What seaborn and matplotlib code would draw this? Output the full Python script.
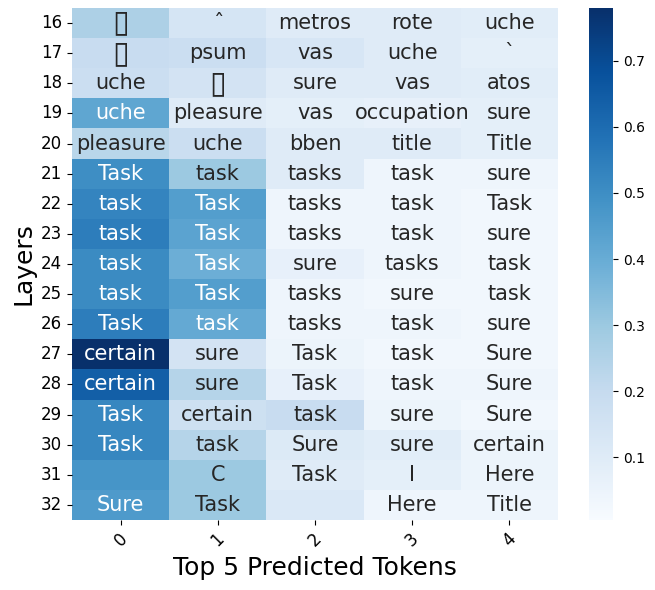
import numpy as np
import pandas as pd
import matplotlib
matplotlib.use("Agg")
import matplotlib.pyplot as plt
import seaborn as sns

layers = list(range(16, 33))
columns = ["0", "1", "2", "3", "4"]

tokens = [
    ["\u25af", "\u02c6", "metros", "rote", "uche"],
    ["\u25af", "psum", "vas", "uche", "`"],
    ["uche", "\u25af", "sure", "vas", "atos"],
    ["uche", "pleasure", "vas", "occupation", "sure"],
    ["pleasure", "uche", "bben", "title", "Title"],
    ["Task", "task", "tasks", "task", "sure"],
    ["task", "Task", "tasks", "task", "Task"],
    ["task", "Task", "tasks", "task", "sure"],
    ["task", "Task", "sure", "tasks", "task"],
    ["task", "Task", "tasks", "sure", "task"],
    ["Task", "task", "tasks", "task", "sure"],
    ["certain", "sure", "Task", "task", "Sure"],
    ["certain", "sure", "Task", "task", "Sure"],
    ["Task", "certain", "task", "sure", "Sure"],
    ["Task", "task", "Sure", "sure", "certain"],
    ["", "C", "Task", "I", "Here"],
    ["Sure", "Task", "", "Here", "Title"],
]

probs = [
    [0.26, 0.14, 0.10, 0.10, 0.09],
    [0.19, 0.18, 0.13, 0.10, 0.08],
    [0.18, 0.15, 0.10, 0.10, 0.09],
    [0.42, 0.10, 0.08, 0.07, 0.08],
    [0.23, 0.18, 0.10, 0.10, 0.08],
    [0.50, 0.30, 0.10, 0.04, 0.04],
    [0.53, 0.45, 0.04, 0.04, 0.03],
    [0.55, 0.43, 0.04, 0.04, 0.03],
    [0.51, 0.39, 0.07, 0.04, 0.03],
    [0.51, 0.45, 0.04, 0.03, 0.03],
    [0.55, 0.41, 0.04, 0.04, 0.03],
    [0.78, 0.15, 0.05, 0.03, 0.03],
    [0.64, 0.24, 0.07, 0.04, 0.04],
    [0.52, 0.17, 0.19, 0.05, 0.03],
    [0.52, 0.24, 0.11, 0.09, 0.05],
    [0.48, 0.30, 0.10, 0.08, 0.05],
    [0.46, 0.30, 0.12, 0.04, 0.04],
]

df = pd.DataFrame(probs, index=layers, columns=columns)
labels = np.array(tokens)

fig = plt.figure(figsize=(6.55, 5.9), dpi=100)
ax = fig.add_axes([72 / 655, 70 / 590, 486 / 655, 512 / 590])
cax = fig.add_axes([589 / 655, 70 / 590, 24 / 655, 512 / 590])

sns.heatmap(df, ax=ax, cbar_ax=cax, cmap="Blues", vmin=0.005, vmax=0.78,
            annot=labels, fmt="", annot_kws={"fontsize": 15})

for t in ax.texts:
    if t.get_text() == "\u25af":
        t.set_fontsize(22)

ax.set_xlabel("Top 5 Predicted Tokens", fontsize=18)
ax.set_ylabel("Layers", fontsize=18)
ax.set_xticklabels(columns, rotation=45, fontsize=12)
ax.set_yticklabels(layers, rotation=0, fontsize=12)
cax.tick_params(labelsize=10)

fig.savefig("out.png", dpi=100)
